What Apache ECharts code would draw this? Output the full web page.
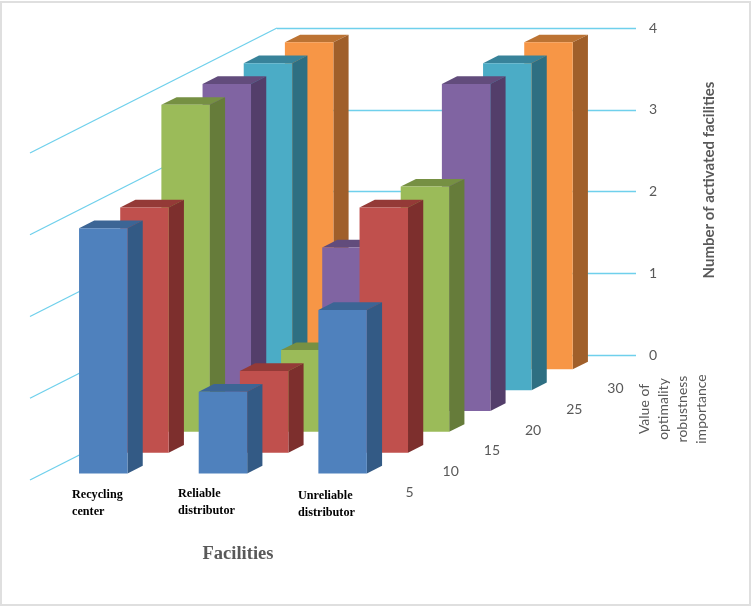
<!DOCTYPE html>
<html lang="en">
<head>
    <meta charset="UTF-8">
    <title>Number of activated facilities</title>
    <style>
        html, body { margin: 0; padding: 0; background: #fff; }
        #showData { width: 752px; height: 606px; }
    </style>
</head>
<body>
<div id="showData"></div>
<script src="https://cdn.jsdelivr.net/npm/echarts@6/dist/echarts.min.js"></script>
<script>
var facilities = ['Recycling\ncenter', 'Reliable\ndistributor', 'Unreliable\ndistributor'];
var importance = ['5', '10', '15', '20', '25', '30'];
var valueTicks = [0, 1, 2, 3, 4];

var values5 = [3, 1, 2];
var values10 = [3, 1, 3];
var values15 = [4, 1, 3];
var values20 = [4, 2, 4];
var values25 = [4, 2, 4];
var values30 = [4, 2, 4];
var allValues = [values5, values10, values15, values20, values25, values30];

var frontColors = ['#4F81BD', '#C0504D', '#9BBB59', '#8064A2', '#4BACC6', '#F79646'];
var sideColors = ['#335A85', '#7D2F2D', '#667C3A', '#533E6A', '#2E6F82', '#A05F2A'];
var topColors = ['#3C6595', '#943A37', '#769043', '#624C7C', '#38839A', '#BC7333'];

// one row of the floor moves this far on screen
var rowDx = 41.17;
var rowDy = 20.83;
var rowCount = importance.length;
var barShare = 0.405;
var barNudge = 0.7;
var depthStart = 0.31;
var depthEnd = 0.68;

// the grid is the back wall, rows come forward from it
function project(pt, t) {
    return [pt[0] - (rowCount - t) * rowDx, pt[1] + (rowCount - t) * rowDy];
}

function renderBar(row) {
    return function (params, api) {
        var cat = api.value(0);
        var val = api.value(1);
        var half = api.size([1, 0])[0] * barShare / 2;
        var base = api.coord([cat, 0]);
        var head = api.coord([cat, val]);
        var left = base[0] + barNudge - half;
        var right = base[0] + barNudge + half;
        var a = project([left, head[1]], row + depthStart);
        var b = project([right, head[1]], row + depthStart);
        var c = project([right, base[1]], row + depthStart);
        var d = project([left, base[1]], row + depthStart);
        var e = project([right, head[1]], row + depthEnd);
        var f = project([right, base[1]], row + depthEnd);
        var g = project([left, head[1]], row + depthEnd);
        return {
            type: 'group',
            children: [
                { type: 'polygon', shape: { points: [a, b, e, g] }, style: { fill: topColors[row] } },
                { type: 'polygon', shape: { points: [b, c, f, e] }, style: { fill: sideColors[row] } },
                { type: 'polygon', shape: { points: [a, b, c, d] }, style: { fill: frontColors[row] } }
            ]
        };
    };
}

function renderSideWall(params, api) {
    var band = api.size([1, 0])[0];
    var p = api.coord([0, api.value(0)]);
    return {
        type: 'line',
        shape: {
            x1: p[0] - band / 2, y1: p[1],
            x2: p[0] - band / 2 - rowCount * rowDx, y2: p[1] + rowCount * rowDy
        },
        style: { stroke: '#6FD0EC', lineWidth: 1.3 }
    };
}

function renderRowLabel(params, api) {
    var band = api.size([1, 0])[0];
    var p = api.coord([facilities.length - 1, 0]);
    var q = project([p[0] + band / 2, p[1]], params.dataIndex + 0.5);
    return {
        type: 'text',
        x: q[0],
        y: q[1] + 23,
        style: {
            text: importance[params.dataIndex],
            fill: '#595959',
            font: '14px Lato',
            textAlign: 'center',
            textVerticalAlign: 'middle'
        }
    };
}

var series = [{
    type: 'custom',
    name: 'wall',
    silent: true,
    z: 1,
    data: valueTicks.map(function (v) { return [v]; }),
    encode: { y: 0 },
    renderItem: renderSideWall
}, {
    type: 'custom',
    name: 'rows',
    silent: true,
    z: 1,
    data: importance.map(function (v, i) { return [i]; }),
    renderItem: renderRowLabel
}];

// back row first so the nearer rows paint over it
for (var r = rowCount - 1; r >= 0; r--) {
    series.push({
        type: 'custom',
        name: importance[r],
        z: 2 + rowCount - r,
        data: allValues[r].map(function (v, i) { return [i, v]; }),
        encode: { x: 0, y: 1 },
        renderItem: renderBar(r)
    });
}

var labelSpots = [[72, 503], [178, 502], [298, 504]];
var graphics = [{
    type: 'rect',
    silent: true,
    shape: { x: 1, y: 2, width: 749, height: 603 },
    style: { fill: 'none', stroke: '#DFDFDF', lineWidth: 2 }
}, {
    type: 'text',
    x: 238, y: 554,
    style: { text: 'Facilities', fill: '#595959', font: 'bold 18.5px "Liberation Serif"', textAlign: 'center', textVerticalAlign: 'middle' }
}, {
    type: 'text',
    x: 709, y: 180,
    rotation: Math.PI / 2,
    style: { text: 'Number of activated facilities', fill: '#595959', font: 'bold 15px Lato', textAlign: 'center', textVerticalAlign: 'middle' }
}, {
    type: 'text',
    x: 673, y: 409,
    rotation: Math.PI / 2,
    style: { text: 'Value of\noptimality\nrobustness\nimportance', fill: '#595959', font: '14px Lato', lineHeight: 19, textAlign: 'center', textVerticalAlign: 'middle' }
}];
facilities.forEach(function (name, i) {
    graphics.push({
        type: 'text',
        x: labelSpots[i][0], y: labelSpots[i][1],
        style: { text: name, fill: '#000', font: 'bold 12.2px "Liberation Serif"', lineHeight: 17, textAlign: 'left', textVerticalAlign: 'middle' }
    });
});

var mychart = echarts.init(document.getElementById('showData'));
mychart.setOption({
    animation: false,
    backgroundColor: '#fff',
    grid: { left: 277, right: 116, top: 28, height: 327 },
    xAxis: {
        type: 'category',
        data: facilities,
        show: false
    },
    yAxis: {
        type: 'value',
        position: 'right',
        min: 0,
        max: 4,
        interval: 1,
        axisLine: { show: false },
        axisTick: { show: false },
        axisLabel: { color: '#595959', fontFamily: 'Lato', fontSize: 14, margin: 13 },
        splitLine: { lineStyle: { color: '#6FD0EC', width: 1.3 } }
    },
    graphic: graphics,
    series: series
});
</script>
</body>
</html>
